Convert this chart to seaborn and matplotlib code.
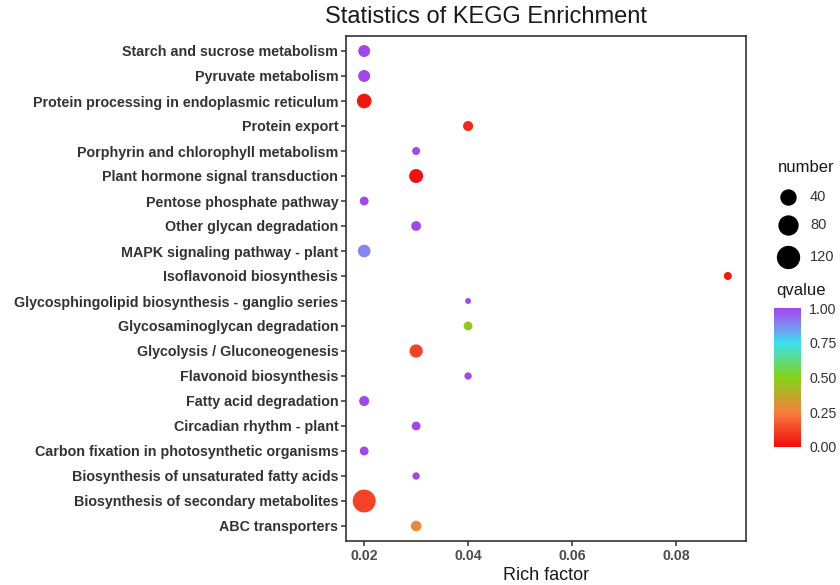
import numpy as np
import pandas as pd
import matplotlib
matplotlib.use("Agg")
import matplotlib.pyplot as plt
import seaborn as sns
from matplotlib.colors import LinearSegmentedColormap, Normalize
from matplotlib.cm import ScalarMappable
from matplotlib.lines import Line2D

pathways = [
    "Starch and sucrose metabolism",
    "Pyruvate metabolism",
    "Protein processing in endoplasmic reticulum",
    "Protein export",
    "Porphyrin and chlorophyll metabolism",
    "Plant hormone signal transduction",
    "Pentose phosphate pathway",
    "Other glycan degradation",
    "MAPK signaling pathway - plant",
    "Isoflavonoid biosynthesis",
    "Glycosphingolipid biosynthesis - ganglio series",
    "Glycosaminoglycan degradation",
    "Glycolysis / Gluconeogenesis",
    "Flavonoid biosynthesis",
    "Fatty acid degradation",
    "Circadian rhythm - plant",
    "Carbon fixation in photosynthetic organisms",
    "Biosynthesis of unsaturated fatty acids",
    "Biosynthesis of secondary metabolites",
    "ABC transporters",
]
rich_factor = [0.02, 0.02, 0.02, 0.04, 0.03, 0.03, 0.02, 0.03, 0.02, 0.09,
               0.04, 0.04, 0.03, 0.04, 0.02, 0.03, 0.02, 0.03, 0.02, 0.03]
number = [19, 19, 37, 10, 4, 32, 6, 9, 23, 4,
          2, 6, 27, 3, 10, 6, 6, 3, 135, 12]
qvalue = [1.0, 1.0, 0.02, 0.06, 1.0, 0.01, 1.0, 1.0, 0.88, 0.02,
          1.0, 0.47, 0.12, 1.0, 1.0, 1.0, 1.0, 1.0, 0.12, 0.27]
size_legend_values = [40, 80, 120]
cbar_ticks = [0.00, 0.25, 0.50, 0.75, 1.00]

df = pd.DataFrame({"Pathway": pathways, "Rich factor": rich_factor,
                   "number": number, "qvalue": qvalue})

sns.set_theme(style="white")
plt.rcParams["font.family"] = ["Liberation Sans", "DejaVu Sans"]

cmap = LinearSegmentedColormap.from_list(
    "kegg", [(0.0, "#F20D0D"), (0.25, "#F57F3D"), (0.5, "#84D418"),
             (0.75, "#3BE0EE"), (0.88, "#8088F0"), (1.0, "#A246EE")])

vmin, vmax = min(number), max(number)
def dpx(v):
    # ggplot-like area scale: diameter in px
    return 5.9 + 17.0 * np.sqrt(max(v - vmin, 0) / (vmax - vmin))
def area_pt(v):
    return (dpx(v) * 72 / 100) ** 2

size_map = {v: area_pt(v) for v in sorted(set(number))}

fig = plt.figure(figsize=(8.4, 5.85), dpi=100)
ax = fig.add_axes([346/840, 1-541/585, 400/840, 505/585])

sns.scatterplot(data=df, x="Rich factor", y="Pathway", hue="qvalue",
                size="number", sizes=size_map, palette=cmap, hue_norm=(0, 1),
                linewidth=0, alpha=1, legend=False, ax=ax, zorder=3)

n = len(pathways)
ax.set_ylim(n - 1 + 0.6, -0.6)
ax.set_xlim(0.0165, 0.0935)
ax.set_xticks([0.02, 0.04, 0.06, 0.08])
ax.set_xticklabels(["0.02", "0.04", "0.06", "0.08"])
ax.set_ylabel("")
ax.set_xlabel("Rich factor", fontsize=13, color="#1a1a1a", labelpad=3)
for lab in ax.get_yticklabels():
    lab.set_fontweight("bold")
    lab.set_fontsize(10.3)
    lab.set_color("#333333")
for lab in ax.get_xticklabels():
    lab.set_fontweight("bold")
    lab.set_fontsize(10.2)
    lab.set_color("#4d4d4d")
ax.tick_params(axis="both", which="major", direction="out", length=3.5,
               width=1.1, color="#333333", left=True, bottom=True, pad=2)
for s in ax.spines.values():
    s.set_color("#333333")
    s.set_linewidth(1.2)

fig.text(486/840, 1-17/585, "Statistics of KEGG Enrichment",
         fontsize=17, ha="center", va="center", color="#1a1a1a")

# size legend
fig.text(778/840, 1-168/585, "number", fontsize=12, ha="left", va="center", color="#1a1a1a")
ys = [197, 225, 257]
for v, y in zip(size_legend_values, ys):
    fig.lines.append(Line2D([788/840], [1-y/585], marker="o", linestyle="none",
                            markersize=dpx(v)*72/100, color="black",
                            transform=fig.transFigure))
    fig.text(810/840, 1-y/585, str(v), fontsize=10.5, ha="left", va="center", color="#333333")

# colorbar
fig.text(776/840, 1-290/585, "qvalue", fontsize=12, ha="left", va="center", color="#1a1a1a")
cax = fig.add_axes([774/840, 1-447/585, 27/840, 139/585])
sm = ScalarMappable(norm=Normalize(0, 1), cmap=cmap)
cb = fig.colorbar(sm, cax=cax, ticks=cbar_ticks)
cb.outline.set_visible(False)
cb.ax.set_yticklabels(["0.00", "0.25", "0.50", "0.75", "1.00"])
cb.ax.tick_params(length=4, color="white", width=0.8, labelsize=10.2, labelcolor="#333333", pad=2)

fig.savefig("out.png", dpi=100, facecolor="white")
